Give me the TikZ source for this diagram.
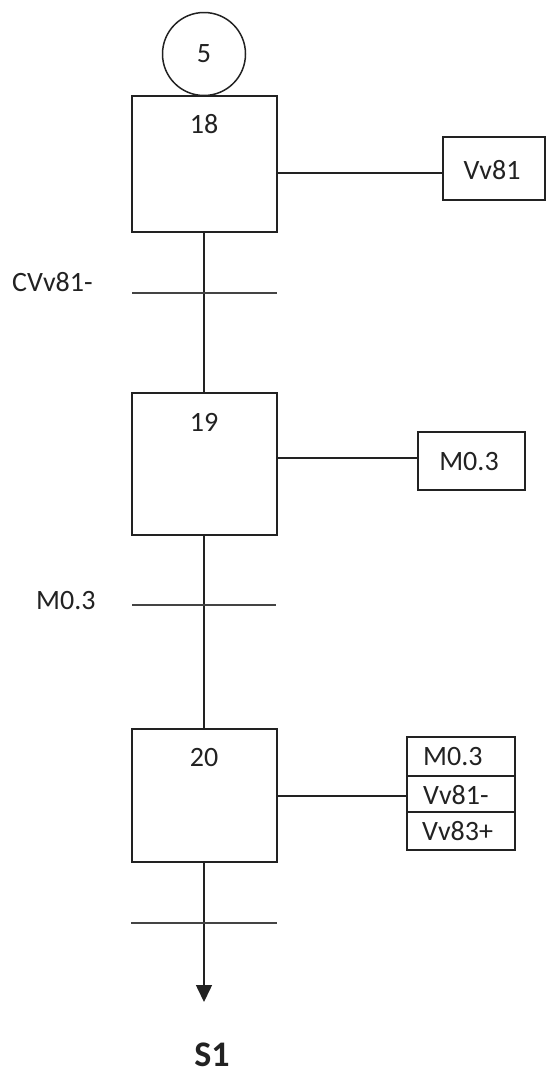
\documentclass[tikz,border=0pt]{standalone}
\usepackage{fontspec}
\setmainfont{Carlito}
\usetikzlibrary{arrows.meta}
\definecolor{ink}{HTML}{222222}
\definecolor{barc}{HTML}{444444}
\begin{document}
\begin{tikzpicture}[x=1pt,y=-1pt,
  stepbox/.style={draw=ink,line width=1.5pt,minimum width=145pt,inner sep=0pt},
  actbox/.style={draw=ink,line width=1.5pt,inner sep=0pt},
  txt/.style={text=ink,font=\fontsize{28}{32}\selectfont,inner sep=0pt},
  wire/.style={draw=ink,line width=1.5pt},
  bar/.style={draw=barc,line width=2.4pt}]
\path[use as bounding box] (0,0) rectangle (546,1074);

% initial circle
\node[draw=ink,line width=1.5pt,circle,minimum size=83pt,inner sep=0pt] (c5) at (204,54) {};
\node[txt] (t5) at (204,54) {5};

% steps
\node[stepbox,minimum height=136pt] (s18) at (204.5,164) {};
\node[txt] (t18) at (204,124) {18};
\node[stepbox,minimum height=142pt] (s19) at (204.5,464) {};
\node[txt] (t19) at (204,422) {19};
\node[stepbox,minimum height=133pt] (s20) at (204.5,795.5) {};
\node[txt] (t20) at (204,758) {20};

% actions
\node[actbox,minimum width=102pt,minimum height=63pt] (a18) at (494,168.5) {};
\node[txt] (ta18) at (492,170) {Vv81};
\node[actbox,minimum width=107pt,minimum height=58pt] (a19) at (471.5,461) {};
\node[txt] (ta19) at (469,462) {M0.3};
\node[actbox,minimum width=108pt,minimum height=39pt] (a20a) at (461,756.5) {};
\node[actbox,minimum width=108pt,minimum height=36pt] (a20b) at (461,794) {};
\node[actbox,minimum width=108pt,minimum height=38pt] (a20c) at (461,831) {};
\node[txt,anchor=west] (ta20a) at (423,757) {M0.3};
\node[txt,anchor=west] (ta20b) at (423,795) {Vv81-};
\node[txt,anchor=west] (ta20c) at (422,831) {Vv83+};

% action links
\coordinate (l18) at (277,173);
\coordinate (l19) at (277,458);
\coordinate (l20) at (277,796);
\draw[wire] (l18) -- (a18.west |- l18);
\draw[wire] (l19) -- (a19.west |- l19);
\draw[wire] (l20) -- (a20b.west |- l20);

% main flow
\coordinate (tip) at (204,1002);
\draw[wire] (s18.south -| 204,0) -- (s19.north -| 204,0);
\draw[wire] (s19.south -| 204,0) -- (s20.north -| 204,0);
\draw[wire,-{Triangle[width=16pt,length=17pt]}] (s20.south -| 204,0) -- (tip);

% transitions
\coordinate (b1l) at (132,293); \coordinate (b1r) at (277,293);
\coordinate (b2l) at (132,605); \coordinate (b2r) at (276,605);
\coordinate (b3l) at (131,923); \coordinate (b3r) at (277,923);
\draw[bar] (b1l) -- (b1r);
\draw[bar] (b2l) -- (b2r);
\draw[bar] (b3l) -- (b3r);
\node[txt,anchor=west] (r1) at (12,282) {CVv81-};
\node[txt,anchor=west] (r2) at (36,601) {M0.3};

% end label
\node[text=ink,font=\fontsize{36}{40}\selectfont\bfseries,inner sep=0pt] (S1) at (212,1055) {S1};
\end{tikzpicture}
\end{document}
